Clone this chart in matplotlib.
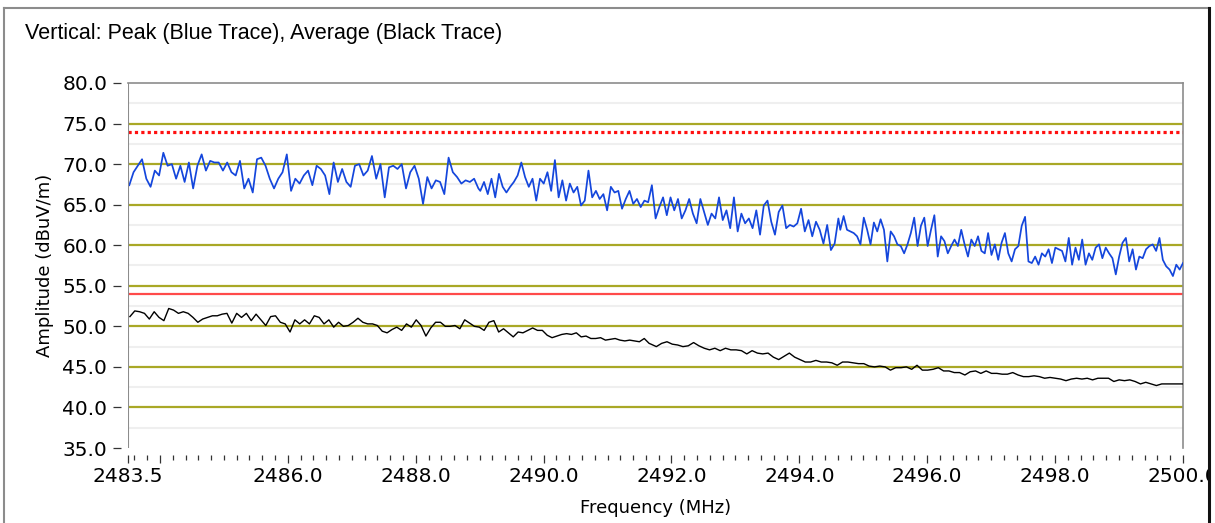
import numpy as np
import matplotlib
matplotlib.use("Agg")
import matplotlib.pyplot as plt
from matplotlib.lines import Line2D
from matplotlib.patches import Rectangle

peak_a = [67.4, 69.0, 69.8, 70.6, 68.2, 67.2, 69.2, 68.6, 71.4, 69.8, 70.0, 68.2, 69.8, 67.8,
          70.2, 67.0, 69.8, 71.2, 69.2, 70.4, 70.2, 70.2, 69.2, 70.2, 69.0, 68.6, 70.4, 67.0,
          68.2, 66.5, 70.6, 70.8, 69.8, 68.2, 67.0, 68.2, 69.0, 71.2, 66.7, 68.2, 67.6, 68.6,
          69.2, 67.4, 69.8, 69.4, 68.6, 66.3, 70.2, 67.8, 69.4, 67.8, 67.2, 69.8, 70.0, 68.6,
          69.2, 71.0, 68.2, 70.0, 65.9, 69.6, 69.8, 69.4, 70.0, 67.0, 69.0, 69.8, 68.2, 65.1,
          68.4, 67.0, 68.0, 67.8, 66.3, 70.8, 69.0, 68.4, 67.6, 68.0, 67.8, 68.2, 67.0]
peak_b = [66.7, 67.8, 66.3, 68.2, 65.9, 68.8, 67.2, 66.5, 67.2, 67.8, 68.6, 70.2, 68.4, 67.2,
          68.2, 65.5, 68.2, 67.6, 69.0, 66.7, 70.5, 65.9, 68.0, 65.5, 67.6, 66.5, 67.2, 64.9,
          65.5, 69.2, 65.9, 66.7, 65.7, 66.3, 64.3, 67.2, 66.5, 66.7, 64.5, 65.7, 66.7, 65.1,
          65.7, 64.7, 65.5, 65.3, 67.4, 63.3, 64.7, 65.9, 63.7, 65.9, 64.3, 65.7, 63.3, 64.3,
          65.7, 63.9, 62.7, 65.7, 64.1, 62.5, 63.9, 63.3, 65.9, 63.1, 64.3, 62.1, 65.9, 61.7,
          63.9, 62.7, 63.3, 62.1, 64.3, 61.3, 64.9, 65.5, 62.9, 61.3, 64.1, 64.9, 62.1, 62.5,
          62.3, 62.7, 64.5, 61.7, 63.1, 61.1, 62.9, 61.9, 60.2, 62.5, 59.4, 60.2, 63.3]
peak_c = [61.9, 63.6, 61.9, 61.7, 61.5, 61.1, 60.1, 63.4, 61.9, 60.1, 62.8, 61.7, 63.2, 61.9,
          58.0, 61.7, 61.1, 60.1, 59.9, 59.0, 60.1, 61.5, 63.4, 59.9, 62.4, 63.4, 59.9, 61.9,
          63.7, 58.6, 61.1, 60.5, 59.0, 59.9, 60.7, 59.9, 61.9, 60.1, 58.6, 60.7, 59.9, 61.1,
          59.3, 59.0, 61.5, 58.8, 60.1, 58.2, 60.3, 61.5, 59.0, 58.0, 59.5, 59.9, 62.4, 63.5,
          58.0, 57.8, 58.6, 57.6, 59.0, 58.6, 59.5, 57.8, 59.7, 59.5, 59.3, 58.0, 60.9, 57.6,
          59.7, 58.2, 60.7, 57.6, 59.0, 58.2, 59.7, 60.1, 58.4, 59.7, 59.0, 58.4, 56.4, 58.6,
          60.3, 60.9, 58.0, 59.5, 57.0, 58.6, 58.4, 59.5, 59.9, 60.1, 59.3, 60.9, 58.2, 57.4,
          57.0, 56.2, 57.6, 57.0, 57.8]

# average trace (black), two pieces
avg_a = [51.2, 51.9, 51.8, 51.6, 50.9, 51.8, 51.1, 50.7, 52.2, 52.0, 51.6, 51.8, 51.6, 51.1,
         50.5, 50.9, 51.1, 51.3, 51.3, 51.5, 51.6, 50.4, 51.6, 51.1, 51.6, 50.7, 51.5, 50.8,
         50.1, 51.2, 51.3, 50.5, 50.3, 49.3, 50.8, 50.3, 50.8, 50.3, 51.3, 51.1, 50.3, 50.8,
         49.9, 50.5, 50.0, 50.1, 50.5, 51.0, 50.5, 50.3, 50.3, 50.1, 49.4, 49.2, 49.6, 49.9,
         49.5, 50.3, 49.9, 50.8, 50.1, 48.8, 49.8, 50.5, 50.5, 50.0, 50.0, 50.1, 49.7, 50.8,
         50.4, 50.0, 49.9, 49.5, 50.5, 50.7, 49.3, 49.7, 49.2, 48.7, 49.3, 49.2, 49.5, 49.8,
         49.5, 49.5, 48.9, 48.6, 48.8, 49.0, 49.1, 49.0, 49.2, 48.7, 48.8, 48.5, 48.5, 48.6,
         48.3, 48.4, 48.5, 48.3, 48.2, 48.3, 48.2, 48.1, 48.5, 47.9]
avg_b = [47.8, 47.5, 47.9, 48.1, 47.8, 47.7, 47.5, 47.6, 48.0, 47.6, 47.3, 47.1, 47.3, 47.0,
         47.3, 47.1, 47.1, 47.0, 46.6, 47.0, 46.7, 46.6, 46.7, 46.2, 45.9, 46.3, 46.7, 46.2,
         45.9, 45.6, 45.6, 45.8, 45.6, 45.6, 45.5, 45.2, 45.6, 45.6, 45.5, 45.4, 45.4, 45.1,
         45.0, 45.1, 45.0, 44.6, 44.9, 44.9, 45.0, 44.7, 45.2, 44.6, 44.6, 44.7, 44.9, 44.5,
         44.5, 44.3, 44.3, 44.0, 44.4, 44.5, 44.2, 44.5, 44.2, 44.2, 44.1, 44.1, 44.3, 44.0,
         43.8, 43.8, 43.9, 43.8, 43.6, 43.7, 43.6, 43.5, 43.3, 43.5, 43.6, 43.5, 43.6, 43.4,
         43.6, 43.6, 43.6, 43.2, 43.4, 43.3, 43.4, 43.2, 42.9, 43.1, 42.9, 42.7, 42.9, 42.9,
         42.9, 42.9, 42.9]

peak_limit = 74.0
avg_limit = 54.0

f_peak = np.concatenate([np.linspace(2483.52, 2488.98, len(peak_a)),
                         np.linspace(2489.01, 2494.61, len(peak_b)),
                         np.linspace(2494.64, 2500.0, len(peak_c))])
peak = np.array(peak_a + peak_b + peak_c)
f_avg = np.concatenate([np.linspace(2483.53, 2491.65, len(avg_a)),
                        np.linspace(2491.68, 2500.0, len(avg_b))])
avg = np.array(avg_a + avg_b)

fig = plt.figure(figsize=(12.15, 5.23), dpi=100)
ax = fig.add_axes([128 / 1215, 75 / 523, 1055 / 1215, 365 / 523])

olive = '#a9a826'
for v in range(40, 80, 5):
    ax.axhline(v, color=olive, lw=1.6, zorder=1)
for v in np.arange(37.5, 80, 5):
    ax.axhline(v, color='#efefef', lw=1.5, zorder=0.5)

ax.axhline(peak_limit, color='#ff1010', lw=2.3, ls=(0, (1, 1)), zorder=2)
ax.axhline(avg_limit, color='#ff4a4a', lw=1.6, zorder=2)

ax.plot(f_peak, peak, color='#1446dc', lw=1.25, zorder=3)
ax.plot(f_avg, avg, color='black', lw=1.0, zorder=3)

ax.set_xlim(2483.5, 2500.0)
ax.set_ylim(35, 80)

xt = [2483.5] + list(range(2484, 2501, 2))
xl = ['2483.5', ''] + ['%.1f' % v for v in range(2486, 2501, 2)]
ax.set_xticks(xt)
ax.set_xticklabels(xl)
ax.set_xticks([m for m in np.arange(2483.6, 2500.01, 0.2)
               if abs(m - round(m)) > 0.05 or int(round(m)) % 2], minor=True)
ax.set_yticks(np.arange(35, 80.1, 5))
ax.set_yticklabels(['%.1f' % v for v in np.arange(35, 80.1, 5)])

for s in ['left', 'bottom']:
    ax.spines[s].set_position(('outward', 5))
    ax.spines[s].set_color('none')
for s in ['top', 'right']:
    ax.spines[s].set_color('#8c8c8c')
    ax.spines[s].set_linewidth(1.2)
ax.axvline(2483.5, color='#8c8c8c', lw=1.5, zorder=4)

ax.tick_params(axis='both', which='major', direction='out', color='#333333',
               width=0.9, labelsize=14.5)
ax.tick_params(axis='y', length=6, pad=4)
ax.tick_params(axis='x', which='major', length=6, pad=3)
ax.tick_params(axis='x', which='minor', length=3.5, width=0.9, color='#333333')
for lab in ax.get_xticklabels() + ax.get_yticklabels():
    lab.set_family('DejaVu Sans')

ax.set_xlabel('Frequency (MHz)', fontsize=13, labelpad=9)
ax.set_ylabel('Amplitude (dBuV/m)', fontsize=13, labelpad=6)

fig.text(25 / 1215, 1 - 33 / 523, 'Vertical: Peak (Blue Trace), Average (Black Trace)',
         fontsize=15.5, family='Liberation Sans', va='center', ha='left')

# outer frame, clipped on the right like the original panel
fig.add_artist(Rectangle((1210 / 1215, 0), 5 / 1215, 1, transform=fig.transFigure,
                         facecolor='white', edgecolor='none', zorder=10))
fig.add_artist(Line2D([4 / 1215, 4 / 1215], [0, 1 - 8 / 523], transform=fig.transFigure,
                      color='#8c8c8c', lw=1.5, zorder=11))
fig.add_artist(Line2D([4 / 1215, 1209 / 1215], [1 - 8 / 523, 1 - 8 / 523],
                      transform=fig.transFigure, color='#8c8c8c', lw=1.5, zorder=11))
fig.add_artist(Line2D([1209 / 1215, 1209 / 1215], [0, 1 - 8 / 523], transform=fig.transFigure,
                      color='#111111', lw=2.2, zorder=11))

fig.savefig('out.png', dpi=100)
